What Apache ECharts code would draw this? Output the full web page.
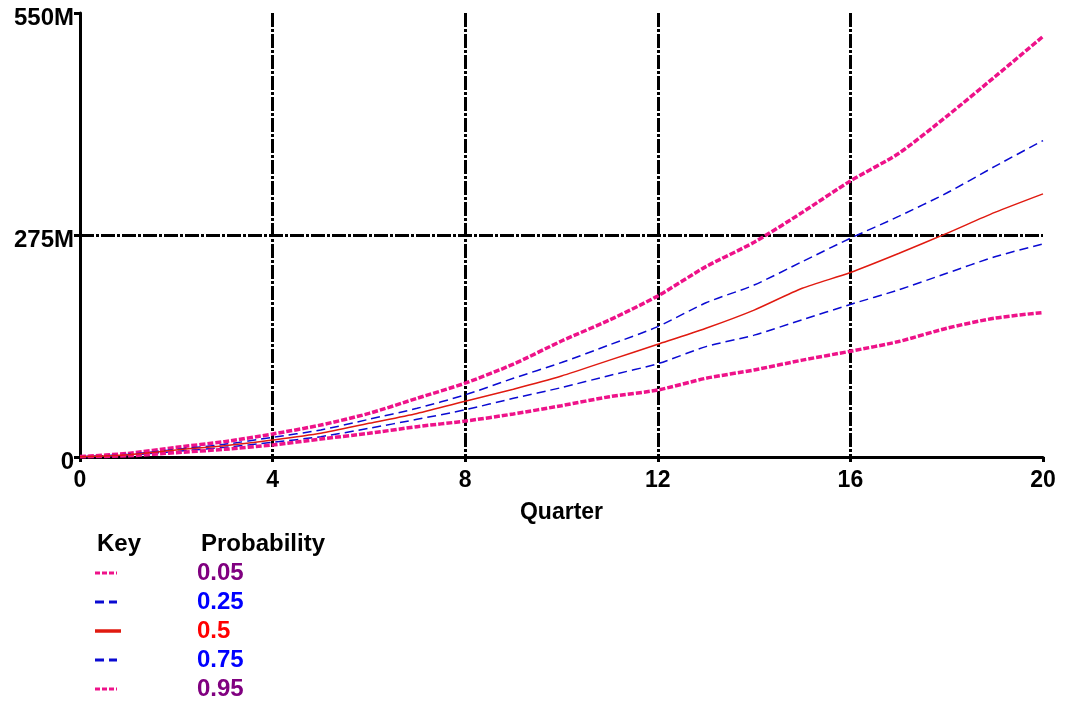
<!DOCTYPE html>
<html>
<head>
<meta charset="utf-8">
<script src="https://cdn.jsdelivr.net/npm/echarts@6/dist/echarts.min.js"></script>
<style>
html,body{margin:0;padding:0;background:#fff;}
#chart{width:1071px;height:707px;}
</style>
</head>
<body>
<div id="chart"></div>
<script>
// Quarter values
var quarters = [0,1,2,3,4,5,6,7,8,9,10,11,12,13,14,15,16,17,18,19,20];
// Values in millions
var p05 = [0.5,4.5,12,19,28.5,39.6,54,72.7,91.5,115,143.7,169.8,199.5,235.8,266,303,342,376,422,471,521];
var p25 = [0.3,3.3,9.5,15.7,24.4,33.5,46.7,60.3,77,97.5,117,139,161.5,191,213,242,271,298,327,360,392];
var p50 = [0.3,2.9,8.7,14,21,29.3,41.7,54,69,84,100.4,120,139.6,159.5,182,209,228.5,252,277,303,326];
var p75 = [0.2,2.3,7,12,18.2,25.2,35.5,46.7,58.5,72.7,86,101,115.6,136.7,151,170,189,207,227.6,248,264];
var p95 = [0.2,1.5,5.4,9.5,14.9,22.3,29.3,37.6,44.5,53.3,63.6,74.7,83,97.5,107.8,120,131,143,159.5,172,179];
var yTicks = [0, 275, 550];
var probLabels = ['0.05','0.25','0.5','0.75','0.95'];

var seriesData = [p05,p25,p50,p75,p95];
var lineColors = ['#ee1289','#0a0ad2','#e01a10','#0a0ad2','#ee1289'];
var labelColors = ['#800080','#0000ff','#ff0000','#0000ff','#800080'];
var lineTypes = [[6,2],[9,5],'solid',[9,5],[6,2]];
var lineWidths = [3.5,1.5,1.5,1.5,3.5];
var legendTypes = [[5,2],[9,5],'solid',[9,5],[5,2]];
var legendWidths = [3,3,3.5,3,3];

function pairs(arr){ return quarters.map(function(q,i){ return [q, arr[i]]; }); }

var FONT = 'Arial, "Liberation Sans", sans-serif';
var gridDash = [14,2,3,2];

var series = seriesData.map(function(d,i){
  return {
    name: probLabels[i], type:'line', data: pairs(d), showSymbol:false, smooth:0.25,
    lineStyle:{color:lineColors[i], width:lineWidths[i], type:lineTypes[i]},
    z: 3 + (i===2?1:0), animation:false
  };
});

var graphics = [
  {type:'text', left:97, top:532, style:{text:'Key', font:'bold 24px '+FONT, fill:'#000'}},
  {type:'text', left:201, top:532, style:{text:'Probability', font:'bold 24px '+FONT, fill:'#000'}}
];
probLabels.forEach(function(lab,i){
  var y = 573 + i*29;
  graphics.push({type:'line', shape:{x1:95,y1:y,x2:(i===2?121:117),y2:y},
    style:{stroke:lineColors[i], lineWidth:legendWidths[i], lineDash:(legendTypes[i]==='solid'?null:legendTypes[i])}});
  graphics.push({type:'text', left:197, top:y-12, style:{text:lab, font:'bold 24px '+FONT, fill:labelColors[i]}});
});

var chart = echarts.init(document.getElementById('chart'));
chart.setOption({
  backgroundColor:'#fff',
  animation:false,
  grid:{left:80, right:28, top:13, bottom:250, containLabel:false},
  xAxis:{
    type:'value', min:0, max:20, interval:4,
    name:'Quarter', nameLocation:'middle', nameGap:44,
    nameTextStyle:{fontFamily:FONT, fontWeight:'bold', fontSize:23, color:'#000'},
    axisLine:{show:true, onZero:false, lineStyle:{color:'#000', width:3}},
    axisTick:{show:true, length:5, lineStyle:{color:'#000', width:3}},
    axisLabel:{fontFamily:FONT, fontWeight:'bold', fontSize:23, color:'#000', margin:12},
    splitLine:{show:true, showMinLine:false, showMaxLine:false, lineStyle:{color:'#000', width:3, type:gridDash}}
  },
  yAxis:{
    type:'value', min:yTicks[0], max:yTicks[yTicks.length-1], interval:yTicks[1]-yTicks[0],
    axisLine:{show:true, lineStyle:{color:'#000', width:3}},
    axisTick:{show:true, length:6, lineStyle:{color:'#000', width:3}},
    axisLabel:{color:'#000', margin:6,
      formatter:function(v){ return '{a|' + (v===0 ? '0' : v+'M') + '}'; },
      rich:{a:{fontFamily:FONT, fontWeight:'bold', fontSize:24, color:'#000', padding:[10,0,0,0]}}},
    splitLine:{show:true, showMinLine:false, showMaxLine:false, lineStyle:{color:'#000', width:3, type:gridDash}}
  },
  series: series,
  graphic: graphics
});
</script>
</body>
</html>
